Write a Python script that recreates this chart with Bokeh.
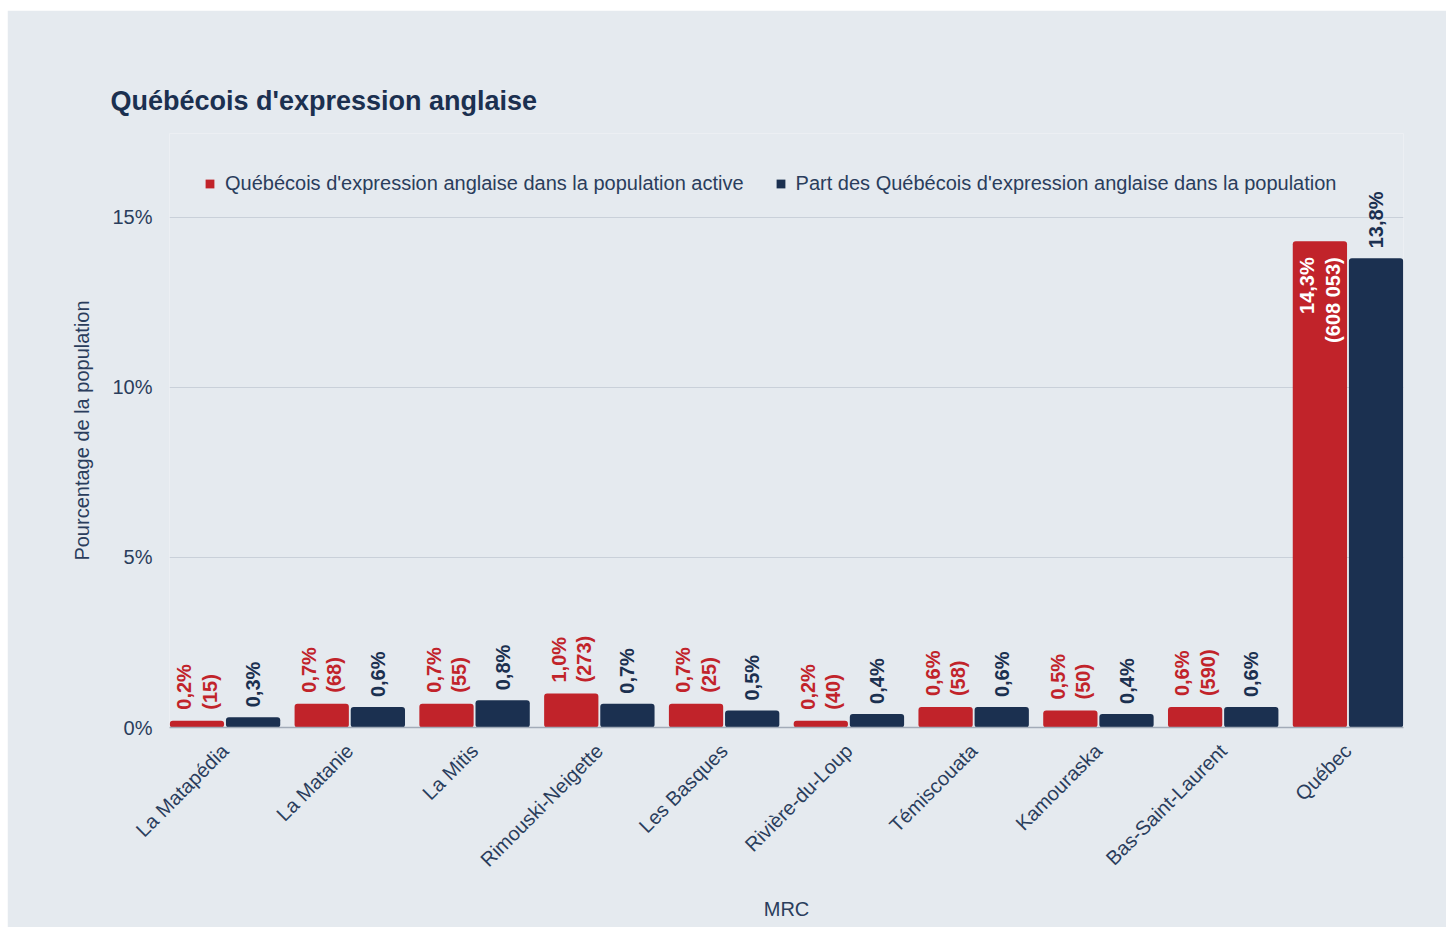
import math
from bokeh.plotting import figure
from bokeh.models import (ColumnDataSource, FactorRange, FixedTicker, Legend,
                          LegendItem, PrintfTickFormatter)
from bokeh.transform import dodge
from bokeh.core.properties import value
from bokeh.embed import file_html
from bokeh.resources import INLINE

# ---------------- data ----------------
categories = ["La Matapédia", "La Matanie", "La Mitis", "Rimouski-Neigette", "Les Basques",
              "Rivière-du-Loup", "Témiscouata", "Kamouraska", "Bas-Saint-Laurent", "Québec"]
active_pct = [0.2, 0.7, 0.7, 1.0, 0.7, 0.2, 0.6, 0.5, 0.6, 14.3]
active_count = ["15", "68", "55", "273", "25", "40", "58", "50", "590", "608 053"]
pop_pct = [0.3, 0.6, 0.8, 0.7, 0.5, 0.4, 0.6, 0.4, 0.6, 13.8]
y_ticks = [0, 5, 10, 15]

title_text = "Québécois d'expression anglaise"
series_names = ["Québécois d'expression anglaise dans la population active",
                "Part des Québécois d'expression anglaise dans la population"]
y_label = "Pourcentage de la population"
x_label = "MRC"

# ---------------- style ----------------
BG = "#e5eaef"
RED = "#c1232a"
NAVY = "#1b3050"
TXT = "#2a3d5c"
FONT = "Liberation Sans"


def fmt(v):
    return f"{v:.1f}".replace(".", ",") + "%"


src = ColumnDataSource(dict(
    cat=categories,
    active=active_pct,
    pop=pop_pct,
    active_lbl=[fmt(v) + "\n(" + c + ")" for v, c in zip(active_pct, active_count)],
    pop_lbl=[fmt(v) for v in pop_pct],
))

inside_limit = 10
out_idx = [i for i, v in enumerate(active_pct) if v < inside_limit]
in_idx = [i for i, v in enumerate(active_pct) if v >= inside_limit]
src_out = ColumnDataSource({k: [src.data[k][i] for i in out_idx] for k in src.data})
src_in = ColumnDataSource({k: [src.data[k][i] for i in in_idx] for k in src.data})

xr = FactorRange(*categories, range_padding=-0.055, range_padding_units="absolute")
p = figure(width=1439, height=917, x_range=xr, y_range=(0, 17.47),
           output_backend="svg", toolbar_location=None, margin=(10, 0, 0, 7),
           min_border_left=162, min_border_right=43, min_border_top=123, min_border_bottom=200)
p.background_fill_color = BG
p.border_fill_color = BG
p.outline_line_color = None

# title
p.title.text = title_text
p.title.text_font = FONT
p.title.text_font_style = "bold"
p.title.text_font_size = "27px"
p.title.text_color = NAVY
p.title.align = "left"
p.title.offset = -59
p.title.standoff = 36

DX = 0.225
BW = 0.435
r1 = p.vbar(x=dodge("cat", -DX, range=p.x_range), top="active", width=BW, source=src,
            fill_color=RED, line_color=None, border_radius=3)
r2 = p.vbar(x=dodge("cat", DX, range=p.x_range), top="pop", width=BW, source=src,
            fill_color=NAVY, line_color=None, border_radius=3)

common = dict(angle=math.pi / 2, text_font=value(FONT), text_font_style="bold",
              text_font_size="20px", text_baseline="middle", text_line_height=1.15)
p.text(x=dodge("cat", -DX, range=p.x_range), y="active", text="active_lbl", source=src_out,
       text_align="left", y_offset=-11, text_color=RED, **common)
p.text(x=dodge("cat", -DX, range=p.x_range), y="active", text="active_lbl", source=src_in,
       text_align="right", y_offset=16, text_color="white", **common)
p.text(x=dodge("cat", DX, range=p.x_range), y="pop", text="pop_lbl", source=src,
       text_align="left", y_offset=-10, text_color=NAVY, **common)

# grid
p.xgrid.grid_line_color = None
p.ygrid.ticker = FixedTicker(ticks=y_ticks)
p.ygrid.grid_line_color = "#c9d0d9"
p.ygrid.grid_line_width = 1

# y axis
p.yaxis.ticker = FixedTicker(ticks=y_ticks)
p.yaxis.formatter = PrintfTickFormatter(format="%d%%")
p.yaxis.axis_line_color = None
p.yaxis.major_tick_line_color = None
p.yaxis.minor_tick_line_color = None
p.yaxis.major_label_standoff = 11
p.yaxis.major_label_text_font = FONT
p.yaxis.major_label_text_font_size = "20px"
p.yaxis.major_label_text_color = TXT
p.yaxis.axis_label = y_label
p.yaxis.axis_label_text_font = FONT
p.yaxis.axis_label_text_font_size = "20px"
p.yaxis.axis_label_text_font_style = "normal"
p.yaxis.axis_label_text_color = TXT
p.yaxis.axis_label_standoff = 16

# x axis
p.xaxis.axis_line_color = "#a2abb8"
p.xaxis.axis_line_width = 1.5
p.xaxis.major_tick_line_color = None
p.xaxis.minor_tick_line_color = None
p.xaxis.major_label_orientation = math.pi / 4
p.xaxis.major_label_standoff = 14
p.xaxis.major_label_text_font = FONT
p.xaxis.major_label_text_font_size = "20px"
p.xaxis.major_label_text_color = TXT
p.xaxis.axis_label = x_label
p.xaxis.axis_label_text_font = FONT
p.xaxis.axis_label_text_font_size = "20px"
p.xaxis.axis_label_text_font_style = "normal"
p.xaxis.axis_label_text_color = TXT
p.xaxis.axis_label_standoff = 16

# legend
legend = Legend(items=[LegendItem(label=series_names[0], renderers=[r1]),
                       LegendItem(label=series_names[1], renderers=[r2])],
                orientation="horizontal", location=(35, 532), padding=0, margin=0,
                spacing=31, glyph_width=11, glyph_height=11, label_standoff=10,
                label_text_font=FONT, label_text_font_size="20px", label_text_color=TXT,
                background_fill_alpha=0, border_line_alpha=0)
p.add_layout(legend, "center")

open("out.html", "w").write(file_html(p, INLINE))
